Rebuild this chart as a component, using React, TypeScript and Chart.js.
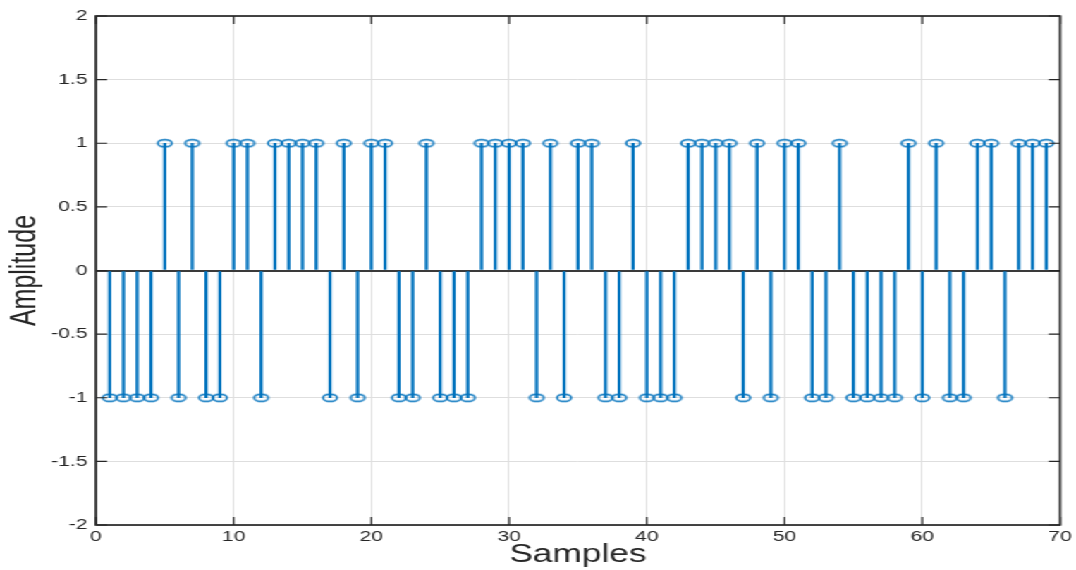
import React, { useEffect, useRef } from 'react';
import { Chart, registerables } from 'chart.js';

Chart.register(...registerables);

// ---- data ----
const samples = [
  1, 2, 3, 4, 5, 6, 7, 8, 9, 10, 11, 12, 13, 14, 15, 16, 17, 18, 19, 20,
  21, 22, 23, 24, 25, 26, 27, 28, 29, 30, 31, 32, 33, 34, 35, 36, 37, 38, 39, 40,
  41, 42, 43, 44, 45, 46, 47, 48, 49, 50, 51, 52, 53, 54, 55, 56, 57, 58, 59, 60,
  61, 62, 63, 64, 65, 66, 67, 68, 69,
];
const amplitudes = [
  -1, -1, -1, -1, 1, -1, 1, -1, -1, 1, 1, -1, 1, 1, 1, 1, -1, 1, -1, 1,
  1, -1, -1, 1, -1, -1, -1, 1, 1, 1, 1, -1, 1, -1, 1, 1, -1, -1, 1, -1,
  -1, -1, 1, 1, 1, 1, -1, 1, -1, 1, 1, -1, -1, 1, -1, -1, -1, -1, 1, -1,
  1, -1, -1, 1, 1, -1, 1, 1, 1,
];
const xTicks = [0, 10, 20, 30, 40, 50, 60, 70];
const yTicks = [-2, -1.5, -1, -0.5, 0, 0.5, 1, 1.5, 2];
const xTitle = 'Samples';
const yTitle = 'Amplitude';

// ---- layout ----
const FULL_W = 1076;
const H = 570;
const NATIVE_W = 763;
const STEM = '#0072BD';
const AXIS = '#262626';
const FONT = "'Liberation Sans', Arial, Helvetica, sans-serif";

const boxPlugin = {
  id: 'matlabBox',
  afterDatasetsDraw(chart: any) {
    const { ctx, chartArea, scales } = chart;
    const { left, right, top, bottom } = chartArea;
    const x = scales.x;
    const y = scales.y;
    ctx.save();
    ctx.strokeStyle = AXIS;
    ctx.lineWidth = 1.2;
    ctx.beginPath();
    for (const v of xTicks) {
      const px = x.getPixelForValue(v);
      ctx.moveTo(px, bottom);
      ctx.lineTo(px, bottom - 8);
      ctx.moveTo(px, top);
      ctx.lineTo(px, top + 8);
    }
    for (const v of yTicks) {
      const py = y.getPixelForValue(v);
      ctx.moveTo(left, py);
      ctx.lineTo(left + 8, py);
      ctx.moveTo(right, py);
      ctx.lineTo(right - 8, py);
    }
    ctx.stroke();
    ctx.lineWidth = 1.7;
    ctx.strokeRect(left, top, right - left, bottom - top);
    ctx.restore();
  },
};

export default function App() {
  const canvasRef = useRef<HTMLCanvasElement | null>(null);

  useEffect(() => {
    document.body.style.margin = '0';
    document.body.style.overflow = 'hidden';
    const canvas = canvasRef.current;
    if (!canvas) return;

    const marker = document.createElement('canvas');
    marker.width = 14;
    marker.height = 10;
    const mctx = marker.getContext('2d');
    if (mctx) {
      mctx.strokeStyle = STEM;
      mctx.lineWidth = 1.5;
      mctx.beginPath();
      mctx.ellipse(7, 5, 5, 3.6, 0, 0, Math.PI * 2);
      mctx.stroke();
    }

    const points = samples.map((s, i) => ({ x: s, y: amplitudes[i] }));

    const chart = new Chart(canvas, {
      type: 'bar',
      data: {
        datasets: [
          {
            type: 'line',
            data: points,
            showLine: false,
            pointStyle: marker as any,
            pointRadius: 5,
            pointHoverRadius: 5,
            order: 0,
          } as any,
          {
            type: 'bar',
            data: points,
            backgroundColor: STEM,
            borderWidth: 0,
            barThickness: 1.6,
            order: 1,
          } as any,
        ],
      },
      plugins: [boxPlugin],
      options: {
        animation: false,
        responsive: false,
        devicePixelRatio: 1,
        layout: { padding: { left: 0, top: 16, right: 10, bottom: 0 } },
        plugins: {
          legend: { display: false },
          tooltip: { enabled: false },
        },
        scales: {
          x: {
            type: 'linear',
            min: 0,
            max: 70,
            offset: false,
            afterFit: (scale: any) => {
              scale.height = 45;
            },
            afterBuildTicks: (scale: any) => {
              scale.ticks = xTicks.map((v) => ({ value: v }));
            },
            grid: {
              offset: false,
              drawTicks: false,
              color: '#dedede',
              lineWidth: 1,
            },
            border: { display: false },
            ticks: {
              padding: 3,
              color: AXIS,
              font: { family: FONT, size: 15 },
              maxRotation: 0,
              callback: (v: any) => String(v),
            },
            title: {
              display: true,
              text: xTitle,
              color: AXIS,
              font: { family: FONT, size: 25, lineHeight: 1.2 },
              padding: { top: 0, bottom: 0 },
            },
          },
          y: {
            type: 'linear',
            min: -2,
            max: 2,
            afterFit: (scale: any) => {
              scale.width = 68;
            },
            afterBuildTicks: (scale: any) => {
              scale.ticks = yTicks.map((v) => ({ value: v }));
            },
            grid: {
              drawTicks: false,
              color: (c: any) => (c.tick && c.tick.value === 0 ? '#3a3a3a' : '#dedede'),
              lineWidth: (c: any) => (c.tick && c.tick.value === 0 ? 2 : 1),
            },
            border: { display: false },
            ticks: {
              padding: 6,
              color: AXIS,
              font: { family: FONT, size: 15 },
              callback: (v: any) => String(v),
            },
            title: {
              display: true,
              text: yTitle,
              color: AXIS,
              font: { family: FONT, size: 25, lineHeight: 1.2 },
              padding: { top: 3, bottom: 0 },
            },
          },
        },
      } as any,
    });

    return () => {
      chart.destroy();
    };
  }, []);

  return (
    <div
      style={{
        position: 'absolute',
        left: 0,
        top: 0,
        width: NATIVE_W,
        height: H,
        transform: `scaleX(${FULL_W / NATIVE_W})`,
        transformOrigin: '0 0',
        background: '#ffffff',
      }}
    >
      <canvas ref={canvasRef} width={NATIVE_W} height={H} style={{ display: 'block' }} />
    </div>
  );
}
